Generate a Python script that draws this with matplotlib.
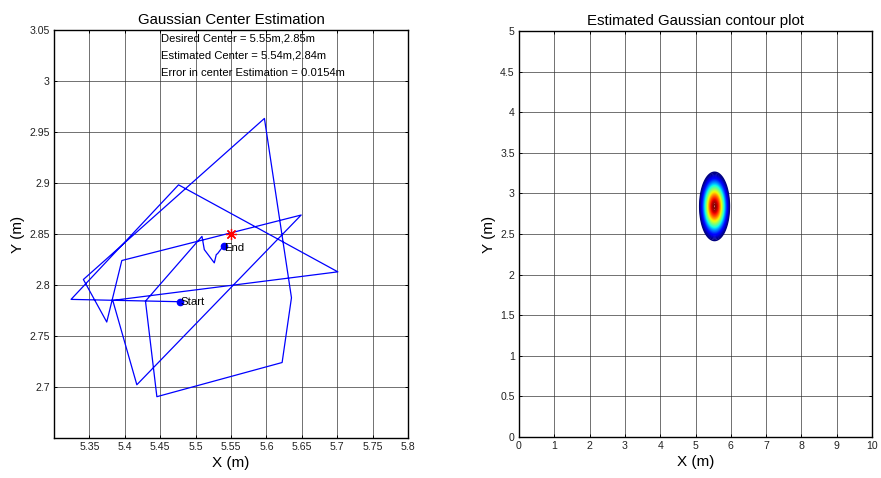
import numpy as np
import matplotlib
matplotlib.use("Agg")
import matplotlib.pyplot as plt

plt.rcParams['font.family'] = ['Liberation Sans', 'DejaVu Sans']

# Search path of the center estimate (metres)
path_x = [5.4783, 5.3241, 5.4759, 5.7009, 5.3830, 5.4170, 5.6491, 5.3958,
          5.3745, 5.3415, 5.5972, 5.6354, 5.6222, 5.4453, 5.4292, 5.5090,
          5.5123, 5.5264, 5.5292, 5.5311, 5.5396]
path_y = [2.7836, 2.7859, 2.8982, 2.8129, 2.7849, 2.7022, 2.8686, 2.8240,
          2.7637, 2.8054, 2.9633, 2.7875, 2.7240, 2.6905, 2.7842, 2.8477,
          2.8347, 2.8217, 2.8298, 2.8308, 2.8386]

desired_center = (5.55, 2.85)
estimated_center = (5.54, 2.84)
center_error = 0.0154
gauss_sigma = 0.2

left_xticks = [5.35, 5.4, 5.45, 5.5, 5.55, 5.6, 5.65, 5.7, 5.75, 5.8]
left_xlabels = ['5.35', '5.4', '5.45', '5.5', '5.55', '5.6', '5.65', '5.7', '5.75', '5.8']
left_yticks = [2.7, 2.75, 2.8, 2.85, 2.9, 2.95, 3.0, 3.05]
left_ylabels = ['2.7', '2.75', '2.8', '2.85', '2.9', '2.95', '3', '3.05']
right_xticks = list(range(0, 11))
right_yticks = [0, 0.5, 1, 1.5, 2, 2.5, 3, 3.5, 4, 4.5, 5]
right_ylabels = ['0', '0.5', '1', '1.5', '2', '2.5', '3', '3.5', '4', '4.5', '5']

fig = plt.figure(figsize=(8.81, 4.78), dpi=100)
ax1 = fig.add_axes([54 / 881, 1 - 438 / 478, 354 / 881, 408 / 478])
ax2 = fig.add_axes([519 / 881, 1 - 437 / 478, 353 / 881, 406 / 478])


def style_axes(ax):
    ax.grid(True, color='#333333', linewidth=0.7, alpha=0.7)
    ax.set_axisbelow(True)
    ax.tick_params(direction='in', length=2.5, width=0.7, labelsize=7.6, pad=3,
                   top=True, right=True, labeltop=False, labelright=False,
                   labelcolor='#222222')
    for s in ax.spines.values():
        s.set_linewidth(1.0)


# Left: trajectory of the estimate
ax1.plot(path_x, path_y, color='#0000ff', linewidth=0.9, zorder=3)
ax1.plot(path_x[0], path_y[0], 'o', color='#0000ff', markersize=4.5, zorder=4)
ax1.plot(path_x[-1], path_y[-1], 'o', color='#0000ff', markersize=4.5, zorder=4)
ax1.text(path_x[0] + 0.0003, path_y[0], 'Start', fontsize=8.2, va='center', ha='left', zorder=5)
ax1.text(path_x[-1] + 0.0003, path_y[-1] - 0.002, 'End', fontsize=8.2, va='center', ha='left', zorder=5)
ax1.plot(desired_center[0], desired_center[1], marker=(8, 2, 0), color='#ff0000',
         markersize=8, markeredgewidth=0.9, linestyle='none', zorder=5)

info = [
    'Desired Center = %.2fm,%.2fm' % desired_center,
    'Estimated Center = %.2fm,%.2fm' % estimated_center,
    'Error in center Estimation = %.4fm' % center_error,
]
for i, line in enumerate(info):
    ax1.text(5.4512, 3.0415 - i * 0.0166, line, fontsize=8.1, va='center', ha='left')

ax1.set_xlim(5.3, 5.8)
ax1.set_ylim(2.65, 3.05)
ax1.set_xticks(left_xticks)
ax1.set_xticklabels(left_xlabels)
ax1.set_yticks(left_yticks)
ax1.set_yticklabels(left_ylabels)
style_axes(ax1)
ax1.set_title('Gaussian Center Estimation', fontsize=10.8, pad=4)
ax1.set_xlabel('X (m)', fontsize=11, labelpad=3)
ax1.set_ylabel('Y (m)', fontsize=11, labelpad=3)

# Right: contour of the estimated Gaussian
gx = np.linspace(4.5, 6.6, 400)
gy = np.linspace(1.8, 3.9, 400)
GX, GY = np.meshgrid(gx, gy)
Z = np.exp(-((GX - estimated_center[0]) ** 2 + (GY - estimated_center[1]) ** 2)
           / (2 * gauss_sigma ** 2))
levels = np.linspace(0.11, 0.99, 45)
ax2.contour(GX, GY, Z, levels=levels, cmap='jet', vmin=0.12, vmax=1.0,
            linewidths=1.1, zorder=3)

ax2.set_xlim(0, 10)
ax2.set_ylim(0, 5)
ax2.set_xticks(right_xticks)
ax2.set_yticks(right_yticks)
ax2.set_yticklabels(right_ylabels)
style_axes(ax2)
ax2.set_title('Estimated Gaussian contour plot', fontsize=10.8, pad=4)
ax2.set_xlabel('X (m)', fontsize=11, labelpad=3)
ax2.set_ylabel('Y (m)', fontsize=11, labelpad=3)

fig.savefig('out.png', dpi=100)
